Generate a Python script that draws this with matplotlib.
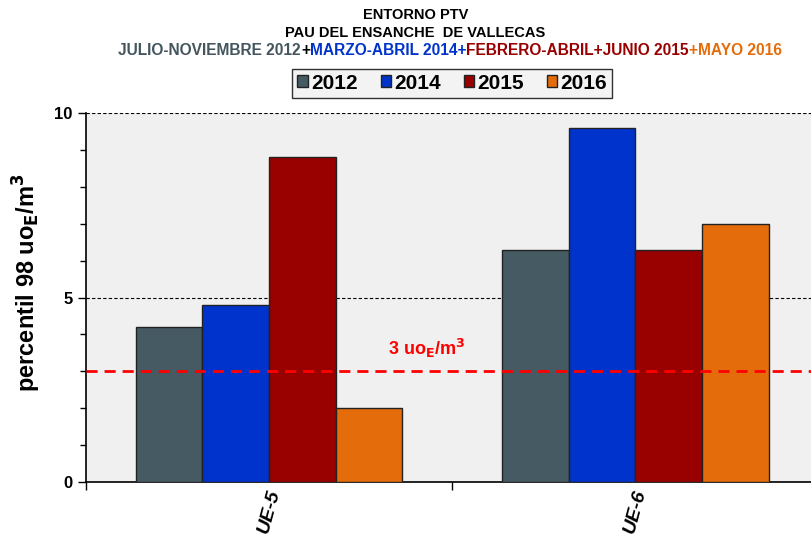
import matplotlib.pyplot as plt
import numpy as np

plt.rcParams['font.family'] = ['Liberation Sans', 'DejaVu Sans']
plt.rcParams['font.weight'] = 'bold'

categories = ['UE-5', 'UE-6']
years = ['2012', '2014', '2015', '2016']
values = {
    '2012': [4.2, 6.3],
    '2014': [4.8, 9.6],
    '2015': [8.8, 6.3],
    '2016': [2.0, 7.0],
}
colors = ['#455a62', '#0033cc', '#990000', '#e46c0a']
limit = 3

fig = plt.figure(figsize=(8.11, 5.44), dpi=100)
ax = fig.add_axes([0.106, 0.114, 0.903, 0.678])
ax.set_facecolor('#f0f0f0')

x = np.arange(len(categories))
w = 0.182
for i, (yr, c) in enumerate(zip(years, colors)):
    ax.bar(x + (i - 1.5) * w, values[yr], w, color=c, edgecolor='#222222',
           linewidth=1, label=yr, zorder=3)

ax.axhline(limit, color='#ff0000', linestyle=(0, (4, 2.5)), linewidth=2, zorder=4)
ax.text(0.43, limit + 0.3, '3 uo$_\\mathbf{E}$/m$^\\mathbf{3}$', color='#ff0000',
        fontsize=13, fontweight='bold', ha='center', va='bottom', zorder=5)

ax.set_xlim(-0.5, 1.5)
ax.set_ylim(0, 10)
ax.set_yticks([0, 5, 10])
ax.set_yticks(range(11), minor=True)
ax.yaxis.grid(True, which='major', color='black', linestyle=(0, (3, 2)), linewidth=0.8)
ax.set_axisbelow(True)
ax.tick_params(axis='y', which='major', labelsize=12, length=6, width=1)
ax.tick_params(axis='y', which='minor', length=4, width=1)

ax.set_xticks([-0.5, 0.5, 1.5])
ax.set_xticklabels([])
ax.set_xticks(x, minor=True)
ax.set_xticklabels(categories, minor=True, rotation=75, fontsize=14,
                   fontstyle='italic', fontweight='bold', ha='center', va='top')
ax.tick_params(axis='x', which='major', length=6, width=1, direction='out')
ax.tick_params(axis='x', which='minor', length=0, pad=4)

for s in ['top', 'right']:
    ax.spines[s].set_visible(False)
ax.spines['left'].set_linewidth(1.2)
ax.spines['bottom'].set_linewidth(1.2)

ax.set_ylabel('percentil 98 uo$_\\mathbf{E}$/m$^\\mathbf{3}$', fontsize=17,
              fontweight='bold')
ax.yaxis.set_label_coords(-0.058, 0.54)

leg = ax.legend(loc='center', bbox_to_anchor=(0.5, 1.081), ncol=4, fontsize=15,
                frameon=True, fancybox=False, edgecolor='black',
                handlelength=0.5, handleheight=0.5, handletextpad=0.15,
                columnspacing=1.1, borderpad=0.25)
leg.get_frame().set_facecolor('#f0f0f0')
leg.get_frame().set_linewidth(1)
for t in leg.get_texts():
    t.set_fontweight('bold')

fig.text(0.512, 0.972, 'ENTORNO PTV', ha='center', va='center', fontsize=10.5, fontweight='bold')
fig.text(0.512, 0.94, 'PAU DEL ENSANCHE  DE VALLECAS', ha='center', va='center',
         fontsize=10.5, fontweight='bold')

pieces = [('JULIO-NOVIEMBRE 2012', '#44555e'), ('+', 'black'),
          ('MARZO-ABRIL 2014+', '#0033cc'), ('FEBRERO-ABRIL+JUNIO 2015', '#990000'),
          ('+MAYO 2016', '#e46c0a')]
fig.canvas.draw()
renderer = fig.canvas.get_renderer()
texts = []
for s, c in pieces:
    t = fig.text(0, 0.908, s, color=c, fontsize=11.2, fontweight='bold', ha='left', va='center')
    texts.append(t)
widths = [t.get_window_extent(renderer).width for t in texts]
total = sum(widths)
xpos = 450 - total / 2
for t, wd in zip(texts, widths):
    t.set_x(xpos / fig.bbox.width)
    xpos += wd

fig.savefig('out.png', dpi=100)
